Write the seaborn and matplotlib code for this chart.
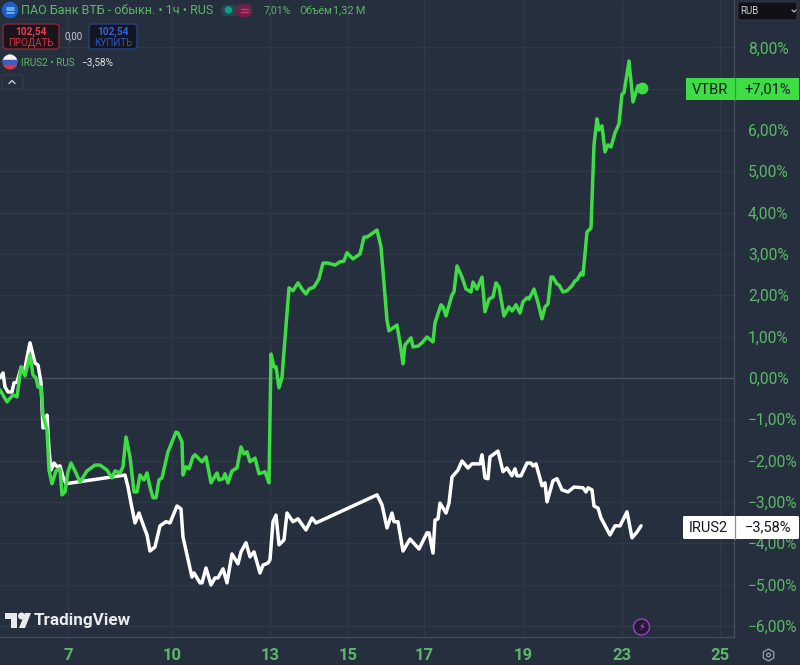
import matplotlib
matplotlib.use("Agg")
import matplotlib.pyplot as plt
import matplotlib.patches as mp
import pandas as pd
import seaborn as sns

vtbr_t = [0,7,13,17,21,25,30,33,36,38,41,43,47,49,52,56,60,62,65,68,71,76,80,87,95,100,107,112,115,120,123,126,130,134,137,140,144,147,150,153,156,159,162,168,176,178,182,183,186,189,193,195,202,206,211,217,219,223,225,228,232,237,241,244,247,250,255,259,265,269,271,274,276,279,282,289,293,298,302,306,309,314,319,323,328,335,340,344,347,353,360,364,367,373,377,381,387,389,397,400,403,405,411,413,418,422,427,433,435,441,443,446,452,454,457,462,466,471,473,477,482,485,489,493,496,499,504,509,512,516,520,523,527,529,534,538,539,542,545,548,551,553,557,559,563,567,572,575,577,581,583,587,591,594,597,599,602,605,608,611,615,619,622,624,629,633,638,642]
vtbr_pct = [-0.29,-0.58,-0.41,-0.46,0.27,0.05,0.56,0.07,0,-0.22,-0.22,-0.90,-1.26,-2.23,-2.56,-2.25,-2.20,-2.83,-2.76,-2.27,-2.06,-2.30,-2.52,-2.25,-2.11,-2.11,-2.23,-2.42,-2.25,-2.30,-2.15,-1.43,-1.91,-2.76,-2.76,-2.35,-2.47,-2.30,-2.64,-2.90,-2.90,-2.47,-2.42,-1.79,-1.31,-1.33,-1.55,-2.35,-2.15,-2.20,-1.91,-1.86,-2.03,-1.91,-2.54,-2.30,-2.47,-2.44,-2.32,-2.54,-2.25,-2.18,-1.67,-1.84,-1.79,-2.03,-1.94,-2.32,-2.27,-2.54,0.58,0.27,0.27,-0.24,0.02,2.18,2.11,2.30,2.15,2.03,2.15,2.20,2.40,2.78,2.78,2.73,2.81,2.83,3.03,2.88,3.00,3.41,3.41,3.51,3.58,3.17,1.40,1.14,1.28,0.85,0.34,0.80,0.97,0.75,0.77,0.85,0.99,0.87,1.33,1.77,1.72,1.50,2.01,2.08,2.71,2.44,2.15,2.08,2.32,2.15,2.44,1.60,1.91,1.96,2.30,2.20,1.50,1.72,1.62,1.77,1.57,1.84,1.94,1.91,2.15,1.82,1.72,1.43,1.72,1.79,2.44,2.44,2.27,2.25,2.08,2.11,2.23,2.35,2.37,2.54,2.49,3.53,3.63,5.64,6.27,6.00,6.10,5.47,5.64,5.59,5.93,6.15,6.87,6.90,7.67,6.68,7.07,7.01]

irus_t = [0,3,5,8,12,14,17,21,24,30,35,38,41,43,45,47,49,51,54,57,60,63,66,125,128,131,135,139,144,147,150,155,160,163,166,170,177,181,183,192,194,200,202,206,211,215,218,223,227,232,238,241,246,250,254,260,263,268,270,273,276,279,284,287,293,298,306,312,316,377,382,387,392,394,398,403,410,419,427,429,433,435,438,440,446,449,452,458,462,468,472,480,482,485,488,490,493,498,503,507,512,515,517,521,527,531,533,536,542,545,547,553,557,562,568,574,583,586,588,592,594,598,601,610,615,620,627,632,637,641]
irus_pct = [0,.12,-.22,-.34,-.34,-.12,-.10,.24,.12,.85,.36,.31,-.12,-1.21,-1.19,-.90,-1.74,-2.23,-2.06,-2.15,-2.13,-2.40,-2.56,-2.35,-2.64,-3.03,-3.51,-3.27,-3.61,-3.80,-4.19,-4.09,-3.58,-3.53,-3.48,-3.51,-3.10,-3.17,-3.85,-4.82,-4.72,-4.96,-4.96,-4.60,-5.01,-4.84,-4.84,-4.62,-4.96,-4.26,-4.50,-4.21,-3.99,-4.33,-4.21,-4.72,-4.53,-4.48,-4.40,-3.48,-3.32,-4.04,-3.92,-3.27,-3.48,-3.41,-3.68,-3.39,-3.51,-2.83,-3.07,-3.63,-3.27,-3.48,-3.48,-4.19,-3.90,-4.14,-3.75,-3.75,-4.24,-3.44,-3.41,-3.03,-3.27,-3.03,-2.40,-2.23,-2.01,-2.18,-2.08,-2.08,-1.86,-2.42,-2.44,-1.91,-1.86,-1.77,-2.27,-2.18,-2.37,-2.20,-2.37,-2.37,-2.06,-2.06,-2.13,-2.08,-2.61,-2.54,-3.00,-2.49,-2.44,-2.71,-2.76,-2.64,-2.66,-2.76,-2.66,-2.71,-3.10,-3.15,-3.39,-3.80,-3.58,-3.58,-3.24,-3.87,-3.73,-3.58]

x_tick_pos = [68,172,270,348,424,523,622,720]
x_tick_labels = ["7","10","13","15","17","19","23","25"]
y_tick_vals = [8,7,6,5,4,3,2,1,0,-1,-2,-3,-4,-5,-6]
# the 7,00% label is hidden behind the VTBR tag in the reference
y_tick_labels = ["8,00%","","6,00%","5,00%","4,00%","3,00%","2,00%","1,00%","0,00%","\u22121,00%","\u22122,00%","\u22123,00%","\u22124,00%","\u22125,00%","\u22126,00%"]

BG = "#262f3d"
GRID = "#303947"
GREEN = "#3edc45"
LABEL = "#5cb868"
sns.set_theme(style="dark")
plt.rcParams["font.family"] = ["Roboto", "DejaVu Sans"]

fig = plt.figure(figsize=(8, 6.65), dpi=100, facecolor=BG)
ax = fig.add_axes([0, 28/665, 734/800, 637/665], facecolor=BG)

df_v = pd.DataFrame({"t": vtbr_t, "pct": vtbr_pct})
df_i = pd.DataFrame({"t": irus_t, "pct": irus_pct})
sns.lineplot(data=df_i, x="t", y="pct", sort=False, estimator=None, color="white", lw=2.5, ax=ax, zorder=3)
sns.lineplot(data=df_v, x="t", y="pct", sort=False, estimator=None, color=GREEN, lw=2.5, ax=ax, zorder=4)
ax.plot(vtbr_t[-1:], vtbr_pct[-1:], "o", color=GREEN, ms=7.5, zorder=5)

ax.set_xlim(0, 734)
ax.set_ylim(-6.27, 9.146)
ax.set_xlabel("")
ax.set_ylabel("")
ax.set_xticks(x_tick_pos, x_tick_labels)
ax.yaxis.tick_right()
ax.set_yticks(y_tick_vals, y_tick_labels)
ax.tick_params(axis="x", length=0, pad=8, labelsize=12, labelcolor=LABEL)
ax.tick_params(axis="y", length=0, pad=10, labelsize=11.2, labelcolor=LABEL)
for t in ax.get_xticklabels():
    t.set_fontweight("bold")
ax.grid(True, color=GRID, lw=0.9)
ax.axhline(0, color="#4a5361", lw=0.9, zorder=1)
for side in ("top", "left"):
    ax.spines[side].set_visible(False)
for side in ("right", "bottom"):
    ax.spines[side].set_color("#434c59")
    ax.spines[side].set_linewidth(1)

# overlay in picture coordinates for the interface furniture
ov = fig.add_axes([0, 0, 1, 1], facecolor="none")
ov.set_xlim(0, 800)
ov.set_ylim(665, 0)
ov.axis("off")
ov.set_zorder(10)

# header
ov.add_patch(mp.Circle((10, 10), 7.5, color="#1c5fc4"))
for yy in (7.5, 10, 12.5):
    ov.plot([6.5, 13.5], [yy, yy], color="#7cc4ff", lw=1.1)
ov.text(21, 10.5, "ПАО Банк ВТБ - обыкн. • 1ч • RUS", color=LABEL, fontsize=9, va="center", ha="left")
ov.add_patch(mp.FancyBboxPatch((221, 5), 17, 11, boxstyle="round,pad=0,rounding_size=5", fc="#24474c", ec="none"))
ov.add_patch(mp.Circle((228.5, 10), 3, color="#0f9c8a"))
ov.add_patch(mp.FancyBboxPatch((236, 4), 16, 13, boxstyle="round,pad=0,rounding_size=5", fc="#6a2347", ec="none"))
ov.plot([240.5, 248], [8.5, 8.5], color="#d8326f", lw=1)
ov.plot([240.5, 248], [11.5, 11.5], color="#d8326f", lw=1)
ov.text(264, 10.5, "7,01%", color=LABEL, fontsize=7.6, va="center", ha="left")
ov.text(299, 10.5, "Объём", color=LABEL, fontsize=7.6, va="center", ha="left")
ov.text(333, 10.5, "1,32\u2009M", color=LABEL, fontsize=7.8, va="center", ha="left")

ov.add_patch(mp.FancyBboxPatch((3, 24), 56, 25, boxstyle="round,pad=0,rounding_size=4", fc="#17161c", ec="#8e2433", lw=1))
ov.text(31, 32, "102,54", color="#f0394c", fontsize=7.3, fontweight="bold", ha="center", va="center")
ov.text(31, 42.5, "ПРОДАТЬ", color="#d9303f", fontsize=7, ha="center", va="center")
ov.text(74, 36, "0,00", color="#c8ccd2", fontsize=7, ha="center", va="center")
ov.add_patch(mp.FancyBboxPatch((89, 24), 48, 25, boxstyle="round,pad=0,rounding_size=4", fc="#14161f", ec="#23408f", lw=1))
ov.text(113, 32, "102,54", color="#2f62e6", fontsize=7.3, fontweight="bold", ha="center", va="center")
ov.text(113, 42.5, "КУПИТЬ", color="#2a56c8", fontsize=7, ha="center", va="center")

flag = mp.Circle((10, 62), 7.5, transform=ov.transData, fc="none", ec="none")
ov.add_patch(flag)
for y0, c in ((54, "#f3f3f5"), (59.5, "#3a5cc4"), (64.5, "#d6384a")):
    r = mp.Rectangle((2, y0), 16, 5.5, color=c)
    ov.add_patch(r)
    r.set_clip_path(flag)
ov.text(21, 62.5, "IRUS2 • RUS", color=LABEL, fontsize=7.2, va="center", ha="left")
ov.text(81, 62.5, "\u22123,58%", color="#dfe3e8", fontsize=7.2, va="center", ha="left")
ov.add_patch(mp.FancyBboxPatch((2, 75), 21, 14, boxstyle="round,pad=0,rounding_size=2", fc="none", ec="#353e4c", lw=0.8))
ov.plot([9, 12, 15], [83.5, 80.5, 83.5], color="#c8ccd2", lw=1)

# currency button
ov.add_patch(mp.FancyBboxPatch((738, 2), 59, 18, boxstyle="round,pad=0,rounding_size=2", fc="#101116", ec="#3a3f48", lw=0.6))
ov.text(740, 11, "RUB", color="#c8ccd2", fontsize=7, va="center", ha="left")
ov.plot([792, 794, 796], [10, 12, 10], color="#c8ccd2", lw=0.8)

# last-value tags
ov.add_patch(mp.Rectangle((686, 78), 113, 22, color=GREEN, lw=0))
ov.plot([734.5, 734.5], [78, 100], color="#27a52e", lw=0.9)
ov.text(710, 89.5, "VTBR", color="#131722", fontsize=10.5, ha="center", va="center")
ov.text(768, 89.5, "+7,01%", color="#131722", fontsize=10.5, ha="center", va="center")
ov.add_patch(mp.FancyBboxPatch((683, 516), 116, 23, boxstyle="round,pad=0,rounding_size=1.5", fc="white", ec="none"))
ov.plot([734.5, 734.5], [516, 539], color="#8a8f98", lw=0.9)
ov.text(708, 527.5, "IRUS2", color="#131722", fontsize=10.5, ha="center", va="center")
ov.text(768, 527.5, "\u22123,58%", color="#131722", fontsize=10.5, ha="center", va="center")

# TradingView mark
ov.add_patch(mp.Polygon([(5, 613), (17, 613), (17, 628), (11, 628), (11, 619), (5, 619)], color="#e8eaed", lw=0))
ov.add_patch(mp.Circle((21.5, 616), 2.8, color="#e8eaed"))
ov.add_patch(mp.Polygon([(25, 613), (31, 613), (25, 628), (19, 628)], color="#e8eaed", lw=0))
ov.text(34, 620.5, "TradingView", color="#e8eaed", fontsize=12.3, fontweight="bold", ha="left", va="center")

# lightning and settings icons
ov.add_patch(mp.Circle((641.5, 627), 8, fc="#231a33", ec="#a03fc0", lw=1))
ov.text(641.5, 627, "\u26a1", color="#d64fe6", fontsize=7, ha="center", va="center", family="DejaVu Sans")
ov.add_patch(mp.RegularPolygon((768.5, 655), 6, radius=6, fc="none", ec="#9aa0a8", lw=0.9))
ov.add_patch(mp.Circle((768.5, 655), 1.8, fc="none", ec="#9aa0a8", lw=0.9))

fig.savefig("out.png", dpi=100, facecolor=BG)
